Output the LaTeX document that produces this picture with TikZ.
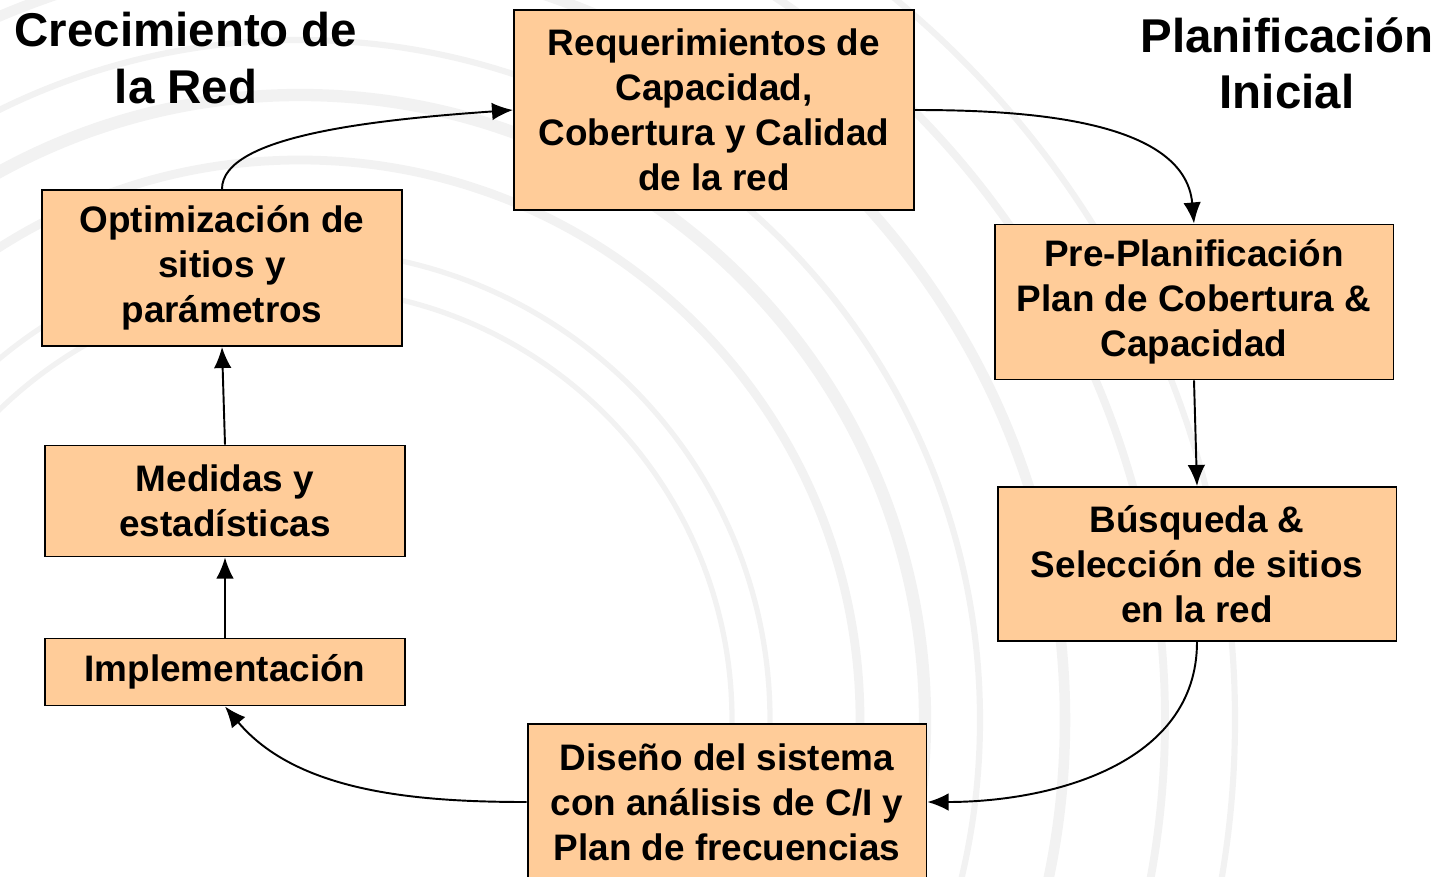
\documentclass[tikz,border=0pt]{standalone}
\usepackage{fontspec}
\setmainfont{Liberation Sans}
\usetikzlibrary{arrows.meta}
\definecolor{naranja}{HTML}{FFCC99}
\definecolor{fondo}{HTML}{F2F2F2}
\begin{document}
\begin{tikzpicture}[>={Latex[length=12pt,width=10pt]},x=0.02cm,y=-0.02cm,
	caja/.style={draw=black,line width=1.1pt,fill=naranja,align=center,
		font=\fontsize{21}{25.5}\selectfont\bfseries},
	titulo/.style={align=center,font=\fontsize{27}{32}\selectfont\bfseries},
	flecha/.style={->,line width=1.1pt}]
	\useasboundingbox (0,0) rectangle (1440,876);
	%Fondo: arcos claros
	\begin{scope}
		\clip (0,0) rectangle (1440,876);
		\foreach \r/\w in {432/3pt,470/3pt,560/5pt,625/7pt,680/3.5pt,765/6pt,865/4.5pt,935/3.5pt}
		\draw[fondo,line width=\w] (300,720) circle[radius=\r*0.02cm];
	\end{scope}
	%Titulos
	\node[titulo] (tc) at (186,58) {Crecimiento de\\la Red};
	\node[titulo] (tp) at (1287,63) {Planificación\\Inicial};
	%Cajas
	\node[caja,minimum width=8cm,minimum height=4cm] (R) at (714,110) {Requerimientos de\\Capacidad,\\Cobertura y Calidad\\de la red};
	\node[caja,minimum width=7.98cm,minimum height=3.1cm] (P) at (1194,302) {Pre-Planificación\\Plan de Cobertura \&\\Capacidad};
	\node[caja,minimum width=7.98cm,minimum height=3.08cm] (B) at (1197,564) {Búsqueda \&\\Selección de sitios\\en la red};
	\node[caja,minimum width=7.98cm,minimum height=3.12cm] (D) at (727,802) {Diseño del sistema\\con análisis de C/I y\\Plan de frecuencias};
	\node[caja,minimum width=7.2cm,minimum height=1.34cm] (I) at (225,672) {Implementación};
	\node[caja,minimum width=7.2cm,minimum height=2.22cm] (M) at (225,501) {Medidas y\\estadísticas};
	\node[caja,minimum width=7.2cm,minimum height=3.12cm] (O) at (222,268) {Optimización de\\sitios y\\parámetros};
	%Flechas
	\draw[flecha] (O.north) to[out=90,in=184,out looseness=0.45,in looseness=1.2] (R.west);
	\draw[flecha] (R.east) to[out=0,in=95,looseness=0.9] (P.north);
	\draw[flecha] (P.south) -- (B.north);
	\draw[flecha] (B.south) to[out=-90,in=0] (D.east);
	\draw[flecha] (D.west) to[out=180,in=-50,looseness=0.9] (I.south);
	\draw[flecha] (I.north) -- (M.south);
	\draw[flecha] (M.north) -- (O.south);
\end{tikzpicture}
\end{document}
